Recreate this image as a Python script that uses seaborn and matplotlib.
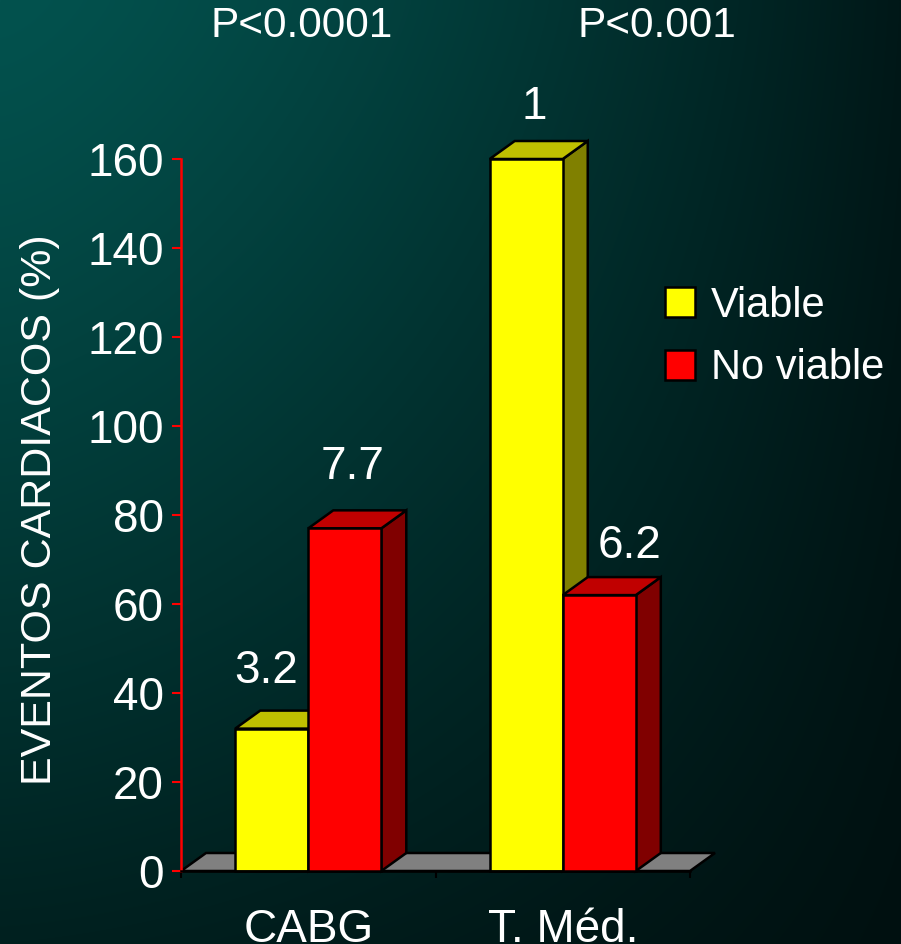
import numpy as np
import pandas as pd
import matplotlib
matplotlib.use("Agg")
import matplotlib.pyplot as plt
from matplotlib.patches import Polygon, Patch
import seaborn as sns

# Data
categories = ["CABG", "T. Méd."]
series = ["Viable", "No viable"]
viable = [32, 160]
no_viable = [77, 62]
value_labels = [["3.2", "1"], ["7.7", "6.2"]]
p_labels = ["P<0.0001", "P<0.001"]
y_ticks = [0, 20, 40, 60, 80, 100, 120, 140, 160]

df = pd.DataFrame({
    "grupo": categories * 2,
    "viabilidad": [series[0]] * 2 + [series[1]] * 2,
    "valor": viable + no_viable,
})

front_colors = ["#ffff00", "#ff0000"]
top_colors = ["#c0c000", "#c00000"]
side_colors = ["#808000", "#800000"]

sns.set_theme(style="white")
plt.rcParams["font.family"] = ["Liberation Sans", "DejaVu Sans"]

W, H, DPI = 901, 944, 100
fig = plt.figure(figsize=(W / DPI, H / DPI), dpi=DPI)

# Dark teal gradient background
bg = fig.add_axes([0, 0, 1, 1], zorder=-10)
u = np.linspace(0, 1, 300)[None, :]
v = np.linspace(0, 1, 300)[:, None]
tl = np.array([3, 82, 78]) / 255
tr = np.array([0, 24, 24]) / 255
bl = np.array([0, 32, 31]) / 255
br = np.array([0, 16, 16]) / 255
uu = u ** 1.4
vv = v ** 1.2
img = (tl * ((1 - uu) * (1 - vv))[..., None] + tr * (uu * (1 - vv))[..., None]
       + bl * ((1 - uu) * vv)[..., None] + br * (uu * vv)[..., None])
bg.imshow(img, aspect="auto", extent=[0, 1, 0, 1], interpolation="bilinear")
bg.set_axis_off()

ax = fig.add_axes([181 / W, 73 / H, 509 / W, 712 / H])
ax.patch.set_alpha(0)

sns.barplot(data=df, x="grupo", y="valor", hue="viabilidad", order=categories,
            hue_order=series, palette=front_colors, saturation=1,
            edgecolor="black", linewidth=1.8, width=0.574, gap=0,
            errorbar=None, legend=False, ax=ax)

ax.set_xlim(-0.5, 1.5)
ax.set_ylim(0, 160)

# depth of the 3D extrusion in data units
ppx = 509 / 2.0
ppy = 712 / 160.0
dx = 25 / ppx
dy = 18 / ppy

bars = list(ax.patches)

# floor
floor = Polygon([(-0.5, 0), (1.5, 0), (1.5 + dx, dy), (-0.5 + dx, dy)],
                closed=True, facecolor="#808080", edgecolor="black",
                linewidth=1.8, zorder=1, clip_on=False)
ax.add_patch(floor)

for i, bar in enumerate(bars):
    s = i // 2
    x0, w, h = bar.get_x(), bar.get_width(), bar.get_height()
    z = 2 + s * 2
    bar.set_zorder(z + 0.5)
    bar.set_clip_on(False)
    top = Polygon([(x0, h), (x0 + w, h), (x0 + w + dx, h + dy), (x0 + dx, h + dy)],
                  closed=True, facecolor=top_colors[s], edgecolor="black",
                  linewidth=1.8, zorder=z, clip_on=False)
    side = Polygon([(x0 + w, 0), (x0 + w + dx, dy), (x0 + w + dx, h + dy), (x0 + w, h)],
                   closed=True, facecolor=side_colors[s], edgecolor="black",
                   linewidth=1.8, zorder=z, clip_on=False)
    ax.add_patch(side)
    ax.add_patch(top)

# value labels above the bars
label_offsets = [[(-6, 40), (8, 34)], [(8, 43), (30, 31)]]
for i, bar in enumerate(bars):
    s, c = i // 2, i % 2
    cx = bar.get_x() + bar.get_width() / 2
    ox, oy = label_offsets[s][c]
    ax.annotate(value_labels[s][c], xy=(cx, bar.get_height() + dy),
                xytext=(ox, oy), textcoords="offset pixels", ha="center",
                va="center", color="white", fontsize=33, annotation_clip=False)

# axes styling
for side_name in ["top", "right"]:
    ax.spines[side_name].set_visible(False)
ax.spines["left"].set_color("#ff0000")
ax.spines["left"].set_linewidth(1.8)
ax.spines["bottom"].set_color("black")
ax.spines["bottom"].set_linewidth(1.8)

ax.set_yticks(y_ticks)
ax.set_yticklabels([str(t) for t in y_ticks])
ax.tick_params(axis="y", which="major", colors="#ff0000", length=6.5, width=1.5,
               labelcolor="white", labelsize=33, pad=6, left=True)

ax.set_xticks([-0.5, 0.5, 1.5])
ax.set_xticklabels([])
ax.set_xticks([0, 1], minor=True)
ax.set_xticklabels(categories, minor=True)
ax.tick_params(axis="x", which="major", colors="black", length=5, width=1.5,
               bottom=True)
ax.tick_params(axis="x", which="minor", length=0, labelcolor="white",
               labelsize=33, pad=27)

ax.set_xlabel("")
ax.set_ylabel("EVENTOS CARDIACOS (%)", color="white", fontsize=31)
ax.yaxis.set_label_coords((60 - 181) / 509, (944 - 510 - 73) / 712)

# p-values above each group
for txt, px in zip(p_labels, [302, 657]):
    fig.text(px / W, 1 - 26 / H, txt, ha="center", va="center",
             color="white", fontsize=30.5)

handles = [Patch(facecolor=front_colors[k], edgecolor="black", linewidth=1.8)
           for k in range(2)]
leg = fig.legend(handles, series, loc="center left",
                 bbox_to_anchor=(665 / W, 1 - 337 / H), frameon=False,
                 fontsize=30, labelcolor="white", handlelength=0.72,
                 handleheight=0.72, handletextpad=0.38, labelspacing=0.55,
                 borderpad=0, borderaxespad=0)

fig.savefig("out.png", dpi=DPI)
